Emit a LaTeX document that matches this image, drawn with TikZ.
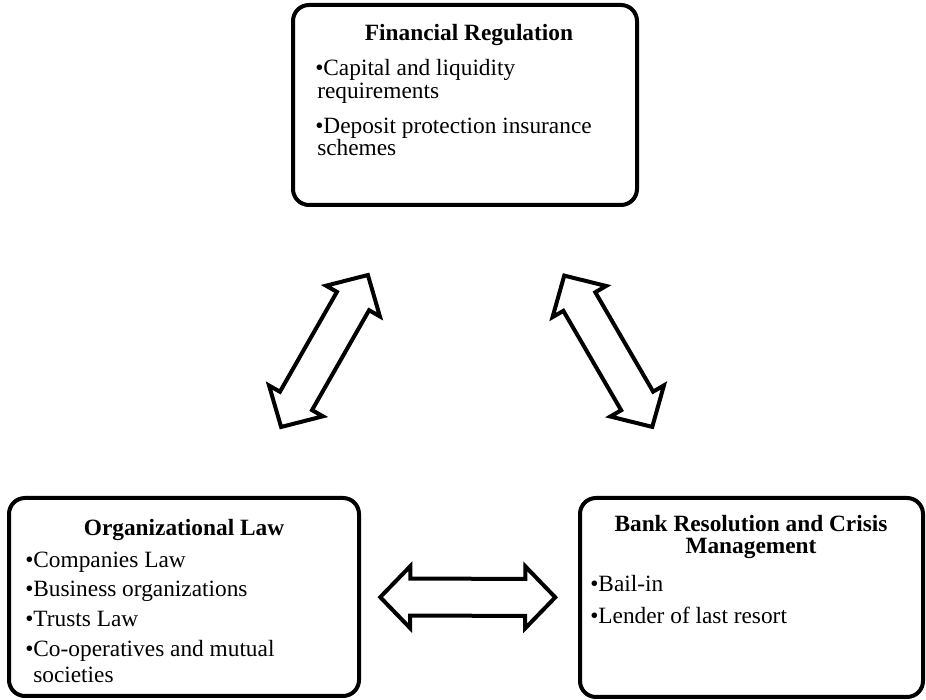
\documentclass[tikz,border=0pt]{standalone}
\usepackage{fontspec}
\setmainfont{Liberation Serif}
\usetikzlibrary{calc}

\tikzset{
  panel/.style={draw, line width=3pt, rounded corners=12pt, inner sep=0pt, fill=white},
  ttl/.style={anchor=base, inner sep=0pt, font=\fontsize{17.5}{20}\selectfont\bfseries},
  itm/.style={anchor=base west, inner sep=0pt, font=\fontsize{17.5}{20}\selectfont},
  arrowline/.style={draw, line width=3pt, line join=miter, fill=white},
  dblarrow/.pic={
    \path[arrowline] (-87.5,0) -- (-57.5,31) -- (-57.5,18.5) -- (57.5,18.5) -- (57.5,31)
      -- (87.5,0) -- (57.5,-31) -- (57.5,-18.5) -- (-57.5,-18.5) -- (-57.5,-31) -- cycle;
  }
}

\begin{document}
\begin{tikzpicture}[x=0.75pt, y=0.75pt]
  \useasboundingbox (0,0) rectangle (926,700);

  % the three panels
  \node[panel, minimum width=258pt, minimum height=150pt] (fin) at (465,595) {};
  \node[panel, minimum width=262.5pt, minimum height=148.5pt] (org) at (184,103) {};
  \node[panel, minimum width=257.25pt, minimum height=149.25pt] (res) at (751.5,102.5) {};

  % Financial Regulation
  \node[ttl] (finT) at (469,659) {Financial Regulation};
  \node[itm] (fin1) at (315,624) {\textbullet Capital and liquidity};
  \node[itm] (fin1b) at (317,601) {requirements};
  \node[itm] (fin2) at (315,566) {\textbullet Deposit protection insurance};
  \node[itm] (fin2b) at (317,544) {schemes};

  % Organizational Law
  \node[ttl] (orgT) at (184,164) {Organizational Law};
  \node[itm] (org1) at (25,132) {\textbullet Companies Law};
  \node[itm] (org2) at (25,103) {\textbullet Business organizations};
  \node[itm] (org3) at (25,73) {\textbullet Trusts Law};
  \node[itm] (org4) at (25,43) {\textbullet Co-operatives and mutual};
  \node[itm] (org4b) at (33,17) {societies};

  % Bank Resolution and Crisis Management
  \node[ttl] (resT) at (751,168) {Bank Resolution and Crisis};
  \node[ttl] (resT2) at (751,146) {Management};
  \node[itm] (res1) at (590,108) {\textbullet Bail-in};
  \node[itm] (res2) at (590,76) {\textbullet Lender of last resort};

  % two-way block arrows between the panels
  \path (fin.center) -- (org.center) pic[midway, sloped] {dblarrow};
  \path (fin.center) -- (res.center) pic[midway, sloped] {dblarrow};
  \path (org.center) -- (res.center) pic[midway, sloped] {dblarrow};
\end{tikzpicture}
\end{document}
